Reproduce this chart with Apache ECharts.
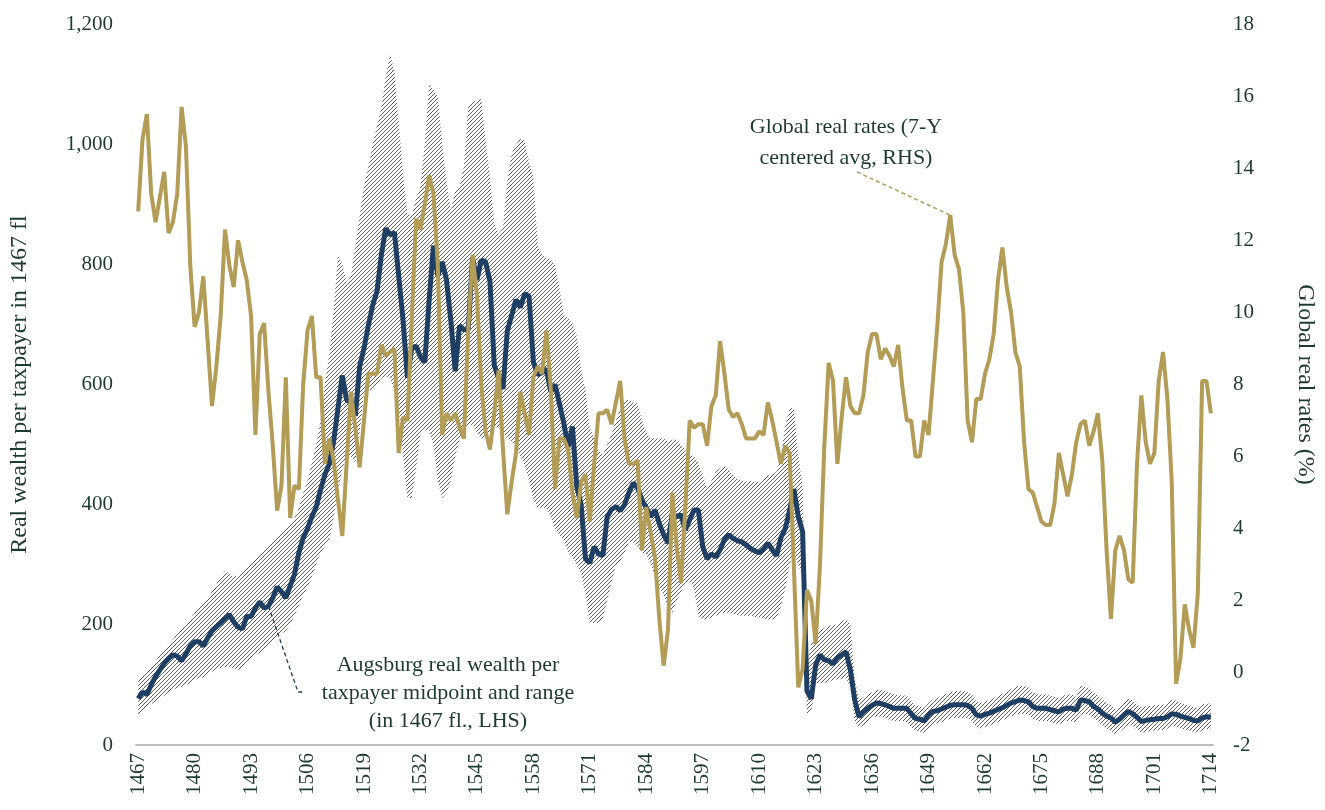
<!DOCTYPE html>
<html>
<head>
<meta charset="utf-8">
<title>Augsburg real wealth and global real rates</title>
<script src="https://cdn.jsdelivr.net/npm/echarts@6/dist/echarts.min.js"></script>
<style>
html, body { margin: 0; padding: 0; background: #fff; }
#main { width: 1325px; height: 810px; }
</style>
</head>
<body>
<div id="main"></div>
<script>
var firstYear = 1467, lastYear = 1714;
var years = [];
for (var yr = firstYear; yr <= lastYear; yr++) years.push(String(yr));

// Global real rates, 7-Y centered avg (%), right axis
var realRates = [
  12.8, 14.8, 15.5, 13.3, 12.5, 13.2, 13.9, 12.2, 12.5, 13.3,
  15.7, 14.6, 11.3, 9.6, 10.0, 11.0, 9.2, 7.4, 8.5, 9.9,
  12.3, 11.3, 10.7, 12.0, 11.4, 10.9, 9.9, 6.6, 9.4, 9.7,
  7.8, 6.3, 4.5, 5.2, 8.2, 4.3, 5.2, 5.1, 8.0, 9.5,
  9.9, 8.2, 8.2, 5.8, 6.5, 5.9, 4.8, 3.8, 5.8, 7.8,
  6.8, 5.7, 7.0, 8.3, 8.3, 8.3, 9.1, 8.8, 8.9, 9.0,
  6.1, 7.1, 7.0, 9.8, 12.6, 12.3, 13.0, 13.8, 13.3, 11.3,
  6.6, 7.2, 7.0, 7.2, 6.8, 6.5, 9.5, 11.6, 10.5, 8.0,
  6.7, 6.2, 7.2, 8.4, 6.2, 4.4, 5.3, 6.1, 7.8, 7.2,
  6.6, 8.2, 8.5, 8.3, 9.5, 7.9, 5.1, 6.5, 6.5, 6.2,
  5.0, 4.3, 5.3, 5.5, 4.2, 5.8, 7.2, 7.2, 7.3, 6.9,
  7.5, 8.1, 6.5, 5.8, 5.8, 5.9, 3.4, 4.6, 3.9, 3.2,
  1.5, 0.2, 1.2, 5.0, 3.5, 2.5, 4.6, 7.0, 6.8, 6.9,
  6.9, 6.3, 7.4, 7.7, 9.2, 8.3, 7.3, 7.1, 7.2, 6.9,
  6.5, 6.5, 6.5, 6.7, 6.6, 7.5, 7.0, 6.4, 5.8, 6.3,
  6.1, 2.9, -0.4, 0.1, 2.3, 2.0, 0.8, 3.0, 6.3, 8.6,
  8.1, 5.8, 7.1, 8.2, 7.4, 7.2, 7.2, 7.7, 8.9, 9.4,
  9.4, 8.7, 9.0, 8.8, 8.5, 9.1, 7.9, 7.0, 7.0, 6.0,
  6.0, 7.0, 6.6, 8.1, 9.6, 11.4, 11.9, 12.7, 11.6, 11.2,
  10.0, 7.0, 6.4, 7.6, 7.6, 8.3, 8.7, 9.4, 10.9, 11.8,
  10.7, 10.0, 8.9, 8.5, 6.4, 5.1, 5.0, 4.6, 4.2, 4.1,
  4.1, 4.7, 6.1, 5.5, 4.9, 5.5, 6.4, 6.9, 7.0, 6.3,
  6.7, 7.2, 5.9, 3.4, 1.5, 3.4, 3.8, 3.4, 2.6, 2.5,
  5.8, 7.7, 6.4, 5.8, 6.1, 8.1, 8.9, 7.6, 5.3, -0.3,
  0.4, 1.9, 1.2, 0.7, 2.2, 8.1, 8.1, 7.2
];

// Augsburg real wealth per taxpayer, midpoint (1467 fl), left axis
var wealthMid = [
  77, 88, 84, 100, 114, 125, 136, 144, 150, 148,
  140, 152, 165, 172, 172, 165, 178, 190, 197, 203,
  210, 217, 205, 196, 193, 214, 214, 228, 238, 228,
  231, 245, 263, 255, 245, 265, 284, 320, 345, 360,
  380, 396, 425, 450, 468, 505, 560, 615, 574, 570,
  548, 630, 660, 698, 732, 755, 816, 860, 849, 853,
  780, 706, 611, 661, 664, 646, 637, 740, 831, 781,
  804, 774, 706, 622, 698, 691, 691, 811, 774, 807,
  804, 772, 632, 610, 593, 689, 715, 741, 728, 751,
  747, 638, 616, 620, 626, 588, 600, 568, 536, 496,
  530, 430, 400, 310, 303, 330, 318, 315, 380, 392,
  397, 390, 400, 420, 436, 428, 408, 395, 380, 391,
  369, 350, 336, 385, 380, 383, 358, 375, 391, 391,
  330, 310, 318, 313, 325, 342, 350, 344, 340, 338,
  333, 327, 323, 320, 326, 336, 325, 315, 345, 360,
  390, 426, 380, 355, 90, 77, 133, 150, 142, 140,
  135, 145, 150, 155, 125, 75, 47, 55, 61, 66,
  70, 69, 67, 64, 61, 61, 61, 61, 52, 44,
  43, 40, 50, 56, 57, 60, 63, 66, 67, 67,
  67, 66, 61, 50, 48, 51, 53, 56, 59, 62,
  66, 70, 72, 75, 74, 72, 64, 61, 61, 61,
  59, 57, 55, 60, 61, 61, 58, 75, 74, 72,
  64, 60, 53, 48, 45, 38, 43, 50, 56, 52,
  46, 39, 41, 42, 43, 44, 44, 47, 52, 51,
  48, 46, 44, 41, 40, 45, 47, 46
];

// range: lower bound
var wealthLow = [
  50, 58, 62, 68, 72, 78, 82, 88, 92, 95,
  97, 100, 103, 108, 112, 112, 118, 122, 126, 128,
  130, 130, 128, 125, 130, 138, 145, 150, 153, 158,
  165, 172, 178, 185, 190, 200, 215, 232, 250, 262,
  280, 300, 320, 330, 340, 380, 420, 460, 480, 480,
  470, 520, 585, 590, 592, 600, 610, 615, 610, 590,
  560, 480, 411, 411, 460, 518, 524, 524, 500, 440,
  411, 419, 440, 480, 509, 520, 533, 533, 520, 510,
  510, 520, 529, 529, 520, 510, 505, 497, 480, 466,
  440, 408, 395, 395, 395, 380, 360, 350, 340, 320,
  312, 300, 286, 250, 203, 203, 203, 210, 241, 270,
  300, 305, 320, 338, 338, 330, 320, 318, 300, 280,
  260, 250, 230, 220, 240, 255, 270, 273, 260, 215,
  209, 209, 212, 215, 218, 220, 220, 218, 216, 215,
  215, 215, 213, 212, 210, 209, 209, 210, 230, 261,
  300, 320, 300, 280, 50, 55, 103, 103, 103, 105,
  108, 109, 110, 112, 95, 40, 28, 33, 40, 45,
  48, 47, 45, 42, 40, 40, 40, 38, 30, 24,
  22, 20, 28, 34, 36, 38, 41, 44, 45, 45,
  45, 44, 40, 30, 27, 30, 32, 35, 38, 41,
  44, 48, 50, 52, 52, 50, 44, 40, 40, 40,
  38, 36, 34, 38, 40, 40, 37, 50, 52, 50,
  44, 40, 33, 27, 24, 18, 22, 28, 34, 32,
  26, 20, 22, 23, 24, 25, 25, 27, 32, 31,
  28, 26, 24, 22, 20, 24, 27, 26
];

// range: upper bound
var wealthHigh = [
  108, 115, 122, 130, 140, 150, 160, 168, 176, 185,
  193, 200, 210, 220, 228, 236, 245, 255, 268, 280,
  290, 285, 280, 282, 290, 298, 305, 312, 320, 326,
  332, 340, 346, 352, 360, 368, 378, 395, 420, 440,
  470, 500, 540, 600, 650, 720, 815, 800, 770, 780,
  830, 880, 930, 962, 1000, 1030, 1062, 1110, 1151, 1120,
  1035, 950, 885, 880, 910, 929, 1000, 1101, 1090, 1079,
  1000, 940, 887, 924, 930, 962, 1062, 1070, 1073, 1075,
  1007, 945, 870, 850, 860, 940, 984, 1000, 1009, 1005,
  970, 945, 830, 817, 811, 808, 799, 760, 716, 710,
  702, 680, 626, 590, 529, 510, 490, 484, 500, 517,
  540, 560, 574, 574, 570, 568, 540, 520, 510, 510,
  510, 510, 505, 508, 508, 500, 490, 484, 480, 470,
  450, 426, 440, 455, 461, 465, 458, 450, 443, 440,
  438, 440, 438, 438, 442, 449, 450, 455, 480, 531,
  561, 561, 480, 430, 130, 170, 180, 190, 195, 198,
  200, 200, 205, 210, 200, 110, 75, 80, 85, 88,
  92, 92, 90, 87, 84, 83, 83, 82, 74, 66,
  64, 62, 70, 76, 78, 82, 85, 88, 90, 90,
  90, 88, 84, 72, 70, 72, 75, 78, 82, 85,
  89, 93, 96, 99, 98, 96, 88, 84, 84, 84,
  82, 80, 78, 82, 84, 84, 80, 98, 97, 95,
  87, 82, 76, 70, 66, 60, 65, 72, 78, 74,
  68, 62, 64, 65, 66, 67, 67, 70, 75, 74,
  70, 68, 66, 63, 62, 67, 70, 68
];

var rangeSpan = wealthHigh.map(function (v, i) { return v - wealthLow[i]; });

var textColor = '#1e3b30';
var serif = '"Liberation Serif", "DejaVu Serif", serif';

// diagonal hatch used for the min-max range
function hatchPattern() {
  var c = document.createElement('canvas');
  c.width = 4; c.height = 4;
  var g = c.getContext('2d');
  g.strokeStyle = '#5e5e5e';
  g.lineWidth = 1;
  g.beginPath();
  g.moveTo(0, 4); g.lineTo(4, 0);
  g.moveTo(-1, 1); g.lineTo(1, -1);
  g.moveTo(3, 5); g.lineTo(5, 3);
  g.stroke();
  return c;
}

var myChart = echarts.init(document.getElementById('main'));
var option = {
  animation: false,
  backgroundColor: '#fff',
  grid: { left: 131, right: 107, top: 24, bottom: 65, containLabel: false },
  xAxis: [{
    type: 'category',
    data: years,
    boundaryGap: true,
    axisLine: { show: true, lineStyle: { color: '#bfbfbf', width: 2 } },
    axisTick: { show: false },
    axisLabel: {
      interval: 12, rotate: 90, margin: 8,
      color: textColor, fontFamily: serif, fontSize: 21
    },
    splitLine: { show: false }
  }],
  yAxis: [{
    type: 'value', min: 0, max: 1200, interval: 200,
    name: 'Real wealth per taxpayer in 1467 fl',
    nameLocation: 'middle', nameRotate: 90, nameGap: 104,
    nameTextStyle: { color: textColor, fontFamily: serif, fontSize: 24 },
    axisLine: { show: false }, axisTick: { show: false },
    splitLine: { show: false },
    axisLabel: {
      margin: 23, color: textColor, fontFamily: serif, fontSize: 21,
      formatter: function (v) { return v.toLocaleString('en-US'); }
    }
  }, {
    type: 'value', min: -2, max: 18, interval: 2,
    name: 'Global real rates (%)',
    nameLocation: 'middle', nameRotate: -90, nameGap: 80,
    nameTextStyle: { color: textColor, fontFamily: serif, fontSize: 24 },
    axisLine: { show: false }, axisTick: { show: false },
    splitLine: { show: false },
    axisLabel: { margin: 20, color: textColor, fontFamily: serif, fontSize: 21 }
  }],
  series: [{
    name: 'Range low', type: 'line', stack: 'range', data: wealthLow,
    symbol: 'none', silent: true, lineStyle: { opacity: 0 }, z: 1
  }, {
    name: 'Range', type: 'line', stack: 'range', data: rangeSpan,
    symbol: 'none', silent: true, lineStyle: { opacity: 0 },
    areaStyle: { color: { image: hatchPattern(), repeat: 'repeat' }, opacity: 1 },
    z: 1
  }, {
    name: 'Augsburg real wealth per taxpayer midpoint', type: 'line', data: wealthMid,
    symbol: 'none', lineStyle: { color: '#1f3e63', width: 5 }, z: 3
  }, {
    name: 'Global real rates', type: 'line', yAxisIndex: 1, data: realRates,
    symbol: 'none', lineStyle: { color: '#b29c56', width: 4 }, z: 4
  }]
};
myChart.setOption(option);

// annotations, anchored to the data through the chart's own scales
var peakIdx = years.indexOf('1640');
for (var i = peakIdx; i < years.indexOf('1660'); i++) {
  if (realRates[i] > realRates[peakIdx]) peakIdx = i;
}
var goldPt = myChart.convertToPixel({ seriesIndex: 3 }, [peakIdx, realRates[peakIdx]]);
var navyIdx = years.indexOf('1497');
var navyPt = myChart.convertToPixel({ seriesIndex: 2 }, [navyIdx, wealthMid[navyIdx]]);

myChart.setOption({
  graphic: [{
    type: 'text', x: 846, y: 112, z: 10,
    style: {
      text: 'Global real rates (7-Y\ncentered avg, RHS)',
      font: '22px ' + serif, fill: textColor,
      align: 'center', verticalAlign: 'top', lineHeight: 31
    }
  }, {
    type: 'line', z: 10,
    shape: { x1: 857, y1: 172, x2: goldPt[0], y2: goldPt[1] },
    style: { stroke: '#b29c56', lineWidth: 1.5, lineDash: [4, 3] }
  }, {
    type: 'text', x: 448, y: 651, z: 10,
    style: {
      text: 'Augsburg real wealth per\ntaxpayer midpoint and range\n(in 1467 fl., LHS)',
      font: '22px ' + serif, fill: textColor,
      align: 'center', verticalAlign: 'top', lineHeight: 28
    }
  }, {
    type: 'polyline', z: 10,
    shape: { points: [[navyPt[0], navyPt[1]], [298, 692], [304, 692]] },
    style: { stroke: '#1f3e63', lineWidth: 1.3, lineDash: [4, 3], fill: null }
  }]
});

window.addEventListener('resize', function () { myChart.resize(); });
</script>
</body>
</html>
